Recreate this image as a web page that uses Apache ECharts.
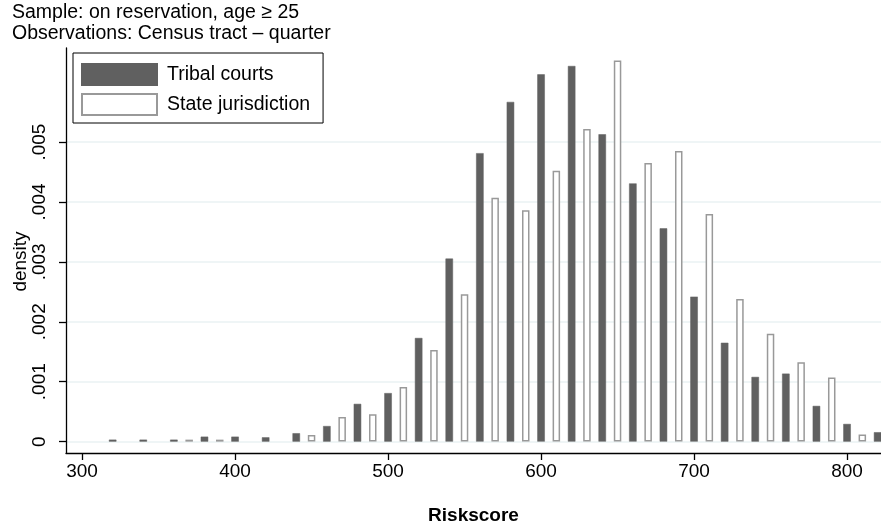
<!DOCTYPE html>
<html>
<head>
<meta charset="utf-8">
<script src="https://cdn.jsdelivr.net/npm/echarts@6/dist/echarts.min.js"></script>
<style>html,body{margin:0;padding:0;background:#fff}#c{width:881px;height:527px}</style>
</head>
<body>
<div id="c"></div>
<script>
// Data
const tribalX = [320,340,360,380,400,420,440,460,480,500,520,540,560,580,600,620,640,660,680,700,720,740,760,780,800,820];
const tribalY = [0.000033,0.000033,0.000033,0.000083,0.000083,0.000072,0.00014,0.00026,0.00063,0.00081,0.00173,0.003055,0.004815,0.00567,0.00613,0.00627,0.00513,0.00431,0.00356,0.00242,0.00165,0.00108,0.001135,0.000596,0.000295,0.000157];
const stateX = [370,390,450,470,490,510,530,550,570,590,610,630,650,670,690,710,730,750,770,790,810];
const stateY = [0.000033,0.000033,0.00011,0.00041,0.000457,0.00091,0.00153,0.00246,0.00407,0.00386,0.00452,0.00522,0.00636,0.00465,0.00485,0.0038,0.00238,0.0018,0.001325,0.00107,0.00012];
const xTicks = [300,400,500,600,700,800];
const yTicks = [0,0.001,0.002,0.003,0.004,0.005];
const seriesNames = ['Tribal courts','State jurisdiction'];
const titleLines = ['Sample: on reservation, age \u2265 25','Observations: Census tract \u2013 quarter'];

const FONT = '"Liberation Sans", Arial, Helvetica, sans-serif';
const chart = echarts.init(document.getElementById('c'), null, {renderer:'canvas'});
const pair = (xs, ys) => xs.map((x,i)=>[x, ys[i]]);

chart.setOption({
  animation: false,
  backgroundColor: '#fff',
  textStyle: {fontFamily: FONT, color: '#000'},
  title: {
    text: titleLines.join('\n'),
    left: 12, top: 2, padding: 0,
    textStyle: {fontFamily: FONT, fontSize: 19.5, fontWeight: 'normal', color: '#000', lineHeight: 21}
  },
  legend: {
    orient: 'vertical',
    left: 73, top: 53,
    padding: [10, 13, 7, 8],
    itemWidth: 75, itemHeight: 21, itemGap: 7,
    borderColor: '#000', borderWidth: 1, borderRadius: 0,
    backgroundColor: '#fff',
    icon: 'rect',
    textStyle: {fontFamily: FONT, fontSize: 19.5, color: '#000', padding: [0,0,0,5]},
    data: seriesNames
  },
  grid: {left: 66, right: 0, top: 48, bottom: 74, containLabel: false, outerBoundsMode: 'none'},
  xAxis: {
    type: 'value',
    min: 289.5, max: 822.2,
    name: 'Riskscore',
    nameLocation: 'middle',
    nameGap: 53,
    nameMoveOverlap: false,
    nameTextStyle: {fontFamily: FONT, fontSize: 19, fontWeight: 'bold', color: '#000'},
    axisLine: {show: true, onZero: false, lineStyle: {color: '#000', width: 1.3}},
    axisTick: {show: true, length: 7, lineStyle: {color: '#000', width: 1.3}, customValues: xTicks},
    axisLabel: {fontFamily: FONT, fontSize: 19, color: '#000', margin: 9, customValues: xTicks},
    splitLine: {show: false}
  },
  yAxis: {
    type: 'value',
    min: -0.00019, max: 0.00657,
    name: 'density',
    nameLocation: 'middle',
    nameGap: 36,
    nameRotate: 90,
    nameMoveOverlap: false,
    nameTextStyle: {fontFamily: FONT, fontSize: 19, color: '#000', padding: [0, 22, 0, 0]},
    axisLine: {show: true, onZero: false, lineStyle: {color: '#000', width: 1.3}},
    axisTick: {show: true, length: 7, lineStyle: {color: '#000', width: 1.3}, customValues: yTicks},
    axisLabel: {
      fontFamily: FONT, fontSize: 19, color: '#000', rotate: 90, margin: 17,
      customValues: yTicks,
      formatter: v => v === 0 ? '0' : String(+v.toFixed(4)).replace(/^0\./, '.')
    },
    splitLine: {show: true, lineStyle: {color: '#eaf2f3', width: 1.5}}
  },
  series: [
    {
      name: seriesNames[0], type: 'bar', barWidth: 7.5, barGap: '-100%',
      itemStyle: {color: '#606060', borderColor: '#606060', borderWidth: 0.5},
      data: pair(tribalX, tribalY)
    },
    {
      name: seriesNames[1], type: 'bar', barWidth: 7.5, barGap: '-100%',
      itemStyle: {color: '#ffffff', borderColor: '#999999', borderWidth: 1.5},
      data: pair(stateX, stateY)
    }
  ]
});
</script>
</body>
</html>
